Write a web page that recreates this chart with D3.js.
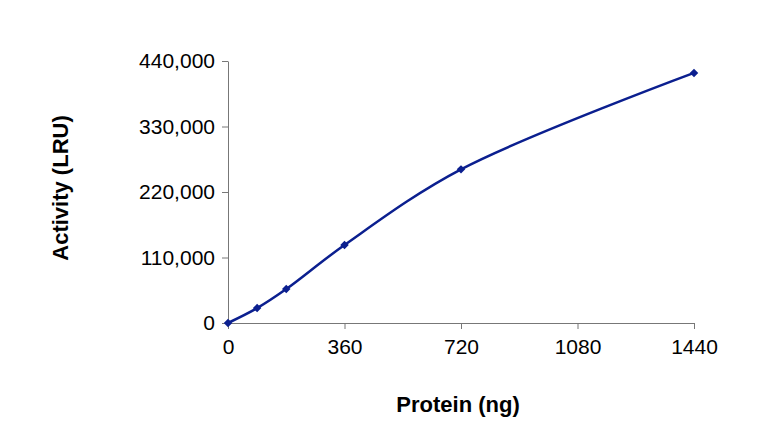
<!DOCTYPE html><html><head><meta charset="utf-8"><script src="https://cdn.jsdelivr.net/npm/d3@7"></script>
<style>body{margin:0;background:#fff}text{font-family:"Liberation Sans",Arial,sans-serif}</style></head><body><svg width="779" height="430"></svg>
<script>
const protein=[0,90,180,360,720,1440];
const activity=[0,25000,57000,131000,258000,420000];
const xTicks=[0,360,720,1080,1440];
const yTicks=[0,110000,220000,330000,440000];
const svg=d3.select("svg");
const x=d3.scaleLinear().domain([0,1440]).range([228,694]);
const y=d3.scaleLinear().domain([0,440000]).range([323,61]);
const fmt=d3.format(",");
const ya=svg.append("g").attr("transform","translate(228,0)").call(d3.axisLeft(y).tickValues(yTicks).tickFormat(fmt).tickSize(6).tickSizeOuter(0));
const xa=svg.append("g").attr("transform","translate(0,323)").call(d3.axisBottom(x).tickValues(xTicks).tickFormat(d3.format("d")).tickSize(6).tickSizeOuter(0));
[ya,xa].forEach(g=>{g.attr("font-size",21).attr("font-family",null);g.selectAll("path,line").attr("stroke","#777");g.selectAll("text").attr("fill","#000");});
ya.selectAll("text").attr("dx",-4);
xa.selectAll("text").attr("dy",22);
const pts=protein.map((p,i)=>[x(p),y(activity[i])]);
svg.append("path").attr("d",d3.line().curve(d3.curveCatmullRom.alpha(0.5))(pts)).attr("fill","none").attr("stroke","#0b1f8f").attr("stroke-width",2.5);
svg.selectAll(".m").data(pts).join("path").attr("transform",d=>`translate(${d[0]},${d[1]}) rotate(45)`).attr("d",d3.symbol(d3.symbolSquare,36)).attr("fill","#0b1f8f");
svg.append("text").attr("x",458).attr("y",412).attr("text-anchor","middle").attr("font-size",22).attr("font-weight","bold").text("Protein (ng)");
svg.append("text").attr("transform","translate(68,188) rotate(-90)").attr("text-anchor","middle").attr("font-size",22).attr("font-weight","bold").text("Activity (LRU)");
</script></body></html>
